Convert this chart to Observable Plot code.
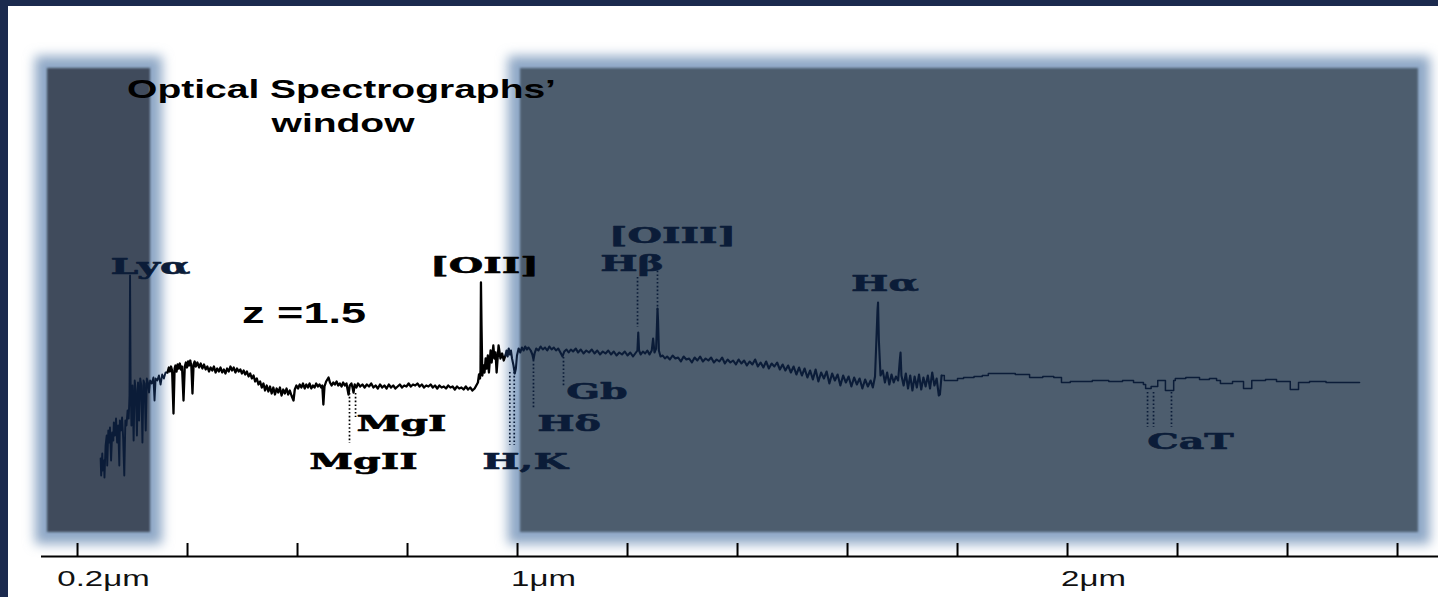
<!DOCTYPE html>
<html><head><meta charset="utf-8">
<script src="https://cdn.jsdelivr.net/npm/d3@7"></script>
<script src="https://cdn.jsdelivr.net/npm/@observablehq/plot@0.6"></script>
<style>
html,body{margin:0;padding:0;background:#1b2a4e;width:1438px;height:597px;overflow:hidden;}
#chart{position:absolute;left:8px;top:6px;width:1430px;height:591px;background:#fff;}
</style></head><body><div id="chart"></div>
<script>
// ---- data (wavelength in μm, relative flux) ----
const xTicks = [0.2,0.4,0.6,0.8,1.0,1.2,1.4,1.6,1.8,2.0,2.2,2.4,2.6];
const xTickLabels = [0.2, 1, 2];

// wavelength ranges outside the optical spectrographs' window
const blockedWindows = [
  {start: 0.1455, end: 0.3327},
  {start: 1.0055, end: 2.638}
];
const windowTop = 4.12, windowBottom = -0.52;

const lyaSpec = [
[0.242,0.22],[0.243,0.05],[0.245,0.27],[0.246,0.10],[0.248,0.20],[0.249,0.03],[0.251,0.35],[0.253,0.45],[0.254,0.15],[0.256,0.50],[0.258,0.38],[0.259,0.53],[0.261,0.20],[0.263,0.48],[0.265,0.40],[0.266,0.58],[0.268,0.45],[0.270,0.62],[0.272,0.38],[0.274,0.55],[0.276,0.15],[0.277,0.60],[0.279,0.50],[0.281,0.63],[0.283,0.42],[0.285,0.05],[0.287,0.60],[0.289,0.55],[0.291,0.70],[0.293,0.62],[0.2945,0.85],[0.2955,2.05],[0.2965,1.00],[0.298,0.55],[0.300,0.95],[0.302,0.40],[0.304,1.00],[0.306,0.90],[0.308,0.45],[0.310,0.98],[0.312,0.60],[0.314,1.02],[0.316,0.95],[0.318,0.38],[0.320,1.00],[0.322,0.97],[0.324,0.50],[0.326,1.02],[0.328,0.98],[0.330,0.88],[0.332,1.00],[0.335,0.97],[0.338,1.03],[0.340,0.80],[0.342,1.02],[0.345,1.00],[0.348,1.05],[0.351,0.96],[0.354,1.06],[0.357,1.02],[0.360,1.08],[0.3636,1.08]
];

const opticalSpec = [
[0.3636,1.08],[0.366,1.13],[0.368,1.09],[0.370,1.14],[0.372,1.10],[0.3745,0.67],[0.3765,1.12],[0.378,1.15],[0.380,1.09],[0.382,1.16],[0.384,1.12],[0.386,1.17],[0.388,1.11],[0.390,1.14],[0.3927,0.80],[0.395,1.14],[0.397,1.18],[0.399,1.13],[0.401,1.19],[0.403,1.15],[0.405,1.20],[0.407,1.14],[0.409,0.87],[0.411,1.16],[0.413,1.19],[0.415,1.14],[0.418,1.18],[0.421,1.13],[0.424,1.17],[0.427,1.12],[0.430,1.16],[0.433,1.11],[0.436,1.14],[0.439,1.09],[0.442,1.13],[0.445,1.10],[0.448,1.14],[0.451,1.08],[0.454,1.12],[0.457,1.09],[0.460,1.13],[0.463,1.08],[0.466,1.11],[0.469,1.07],[0.472,1.12],[0.475,1.09],[0.478,1.14],[0.481,1.10],[0.484,1.13],[0.487,1.08],[0.490,1.12],[0.493,1.09],[0.496,1.11],[0.499,1.07],[0.502,1.10],[0.505,1.06],[0.508,1.09],[0.511,1.04],[0.514,1.07],[0.517,1.02],[0.520,1.05],[0.523,0.99],[0.526,1.02],[0.529,0.96],[0.532,0.99],[0.535,0.93],[0.538,0.97],[0.541,0.90],[0.544,0.95],[0.547,0.89],[0.550,0.94],[0.553,0.87],[0.556,0.93],[0.559,0.86],[0.562,0.92],[0.565,0.88],[0.568,0.93],[0.571,0.85],[0.574,0.91],[0.577,0.87],[0.580,0.92],[0.583,0.86],[0.586,0.90],[0.589,0.85],[0.5927,0.80],[0.595,0.91],[0.598,0.95],[0.601,0.92],[0.604,0.96],[0.607,0.93],[0.610,0.97],[0.613,0.92],[0.616,0.96],[0.619,0.93],[0.622,0.97],[0.625,0.92],[0.628,0.95],[0.631,0.93],[0.634,0.97],[0.637,0.94],[0.640,0.96],[0.643,0.93],[0.645,0.95],[0.647,0.76],[0.649,0.94],[0.652,0.99],[0.6564,1.03],[0.659,0.98],[0.662,0.95],[0.665,0.98],[0.668,0.96],[0.671,0.99],[0.674,0.95],[0.677,0.97],[0.680,0.94],[0.683,0.98],[0.686,0.95],[0.689,0.97],[0.6927,0.86],[0.695,0.95],[0.698,0.97],[0.700,0.93],[0.7018,0.88],[0.704,0.96],[0.707,0.93],[0.710,0.97],[0.714,0.94],[0.718,0.96],[0.722,0.93],[0.726,0.96],[0.730,0.94],[0.734,0.97],[0.738,0.93],[0.742,0.95],[0.746,0.92],[0.750,0.96],[0.754,0.93],[0.758,0.95],[0.762,0.92],[0.766,0.96],[0.770,0.93],[0.774,0.95],[0.778,0.92],[0.782,0.94],[0.786,0.96],[0.790,0.93],[0.794,0.95],[0.798,0.94],[0.802,0.97],[0.806,0.94],[0.810,0.96],[0.814,0.95],[0.818,0.97],[0.822,0.94],[0.826,0.96],[0.830,0.93],[0.834,0.95],[0.838,0.94],[0.842,0.96],[0.846,0.93],[0.850,0.95],[0.854,0.92],[0.858,0.95],[0.862,0.93],[0.866,0.94],[0.870,0.92],[0.874,0.95],[0.878,0.93],[0.882,0.94],[0.886,0.91],[0.890,0.94],[0.894,0.92],[0.898,0.93],[0.902,0.91],[0.906,0.94],[0.910,0.91],[0.914,0.93],[0.918,0.90],[0.922,0.92],[0.925,0.95],[0.928,0.98],[0.930,1.06],[0.9318,1.02],[0.9327,1.10],[0.9335,1.98],[0.9345,1.55],[0.936,1.05],[0.938,1.15],[0.940,1.08],[0.942,1.22],[0.944,1.12],[0.946,1.25],[0.948,1.08],[0.951,1.30],[0.953,1.18],[0.956,1.35],[0.958,1.22],[0.960,1.28],[0.962,1.08],[0.9655,1.35],[0.969,1.22],[0.972,1.27],[0.975,1.20],[0.978,1.25]
];

const nirSpec = [
[0.978,1.25],[0.980,1.30],[0.982,1.24],[0.984,1.32],[0.986,1.26],[0.988,1.30],[0.990,1.22],[0.9927,1.15],[0.995,1.07],[0.997,1.12],[0.999,1.25],[1.002,1.32],[1.005,1.28],[1.008,1.33],[1.011,1.30],[1.014,1.34],[1.017,1.31],[1.020,1.33],[1.024,1.30],[1.027,1.26],[1.029,1.21],[1.031,1.27],[1.034,1.32],[1.038,1.30],[1.042,1.34],[1.046,1.31],[1.050,1.33],[1.054,1.30],[1.058,1.34],[1.062,1.31],[1.066,1.33],[1.070,1.30],[1.074,1.32],[1.078,1.28],[1.0818,1.24],[1.085,1.29],[1.089,1.31],[1.093,1.28],[1.097,1.31],[1.101,1.29],[1.106,1.32],[1.110,1.28],[1.115,1.31],[1.120,1.27],[1.125,1.30],[1.130,1.28],[1.135,1.31],[1.140,1.27],[1.145,1.30],[1.150,1.26],[1.155,1.29],[1.160,1.27],[1.165,1.30],[1.170,1.26],[1.175,1.29],[1.180,1.25],[1.185,1.28],[1.190,1.26],[1.195,1.29],[1.200,1.25],[1.205,1.28],[1.210,1.24],[1.214,1.27],[1.218,1.30],[1.2195,1.48],[1.221,1.30],[1.224,1.26],[1.228,1.29],[1.232,1.27],[1.236,1.30],[1.240,1.26],[1.244,1.30],[1.2465,1.42],[1.249,1.28],[1.252,1.32],[1.2535,1.55],[1.2545,1.72],[1.2555,1.60],[1.257,1.30],[1.260,1.24],[1.264,1.25],[1.268,1.22],[1.272,1.24],
[1.277,1.21],[1.282,1.25],[1.287,1.22],[1.292,1.23],[1.297,1.19],[1.302,1.24],[1.307,1.21],[1.312,1.22],[1.317,1.18],[1.322,1.23],[1.327,1.20],[1.332,1.24],[1.337,1.19],[1.342,1.22],[1.347,1.20],[1.352,1.23],[1.357,1.18],[1.362,1.21],[1.367,1.19],[1.372,1.23],[1.377,1.17],[1.382,1.21],[1.387,1.18],[1.392,1.20],[1.397,1.16],[1.402,1.21],[1.407,1.17],[1.412,1.20],[1.417,1.15],[1.422,1.19],[1.427,1.16],[1.432,1.21],[1.437,1.14],[1.442,1.18],[1.447,1.13],[1.452,1.19],[1.457,1.12],[1.462,1.17],[1.467,1.14],[1.472,1.18],[1.477,1.11],[1.482,1.16],[1.487,1.10],[1.492,1.15],[1.497,1.08],[1.502,1.14],[1.507,1.06],[1.512,1.13],[1.517,1.05],[1.522,1.12],[1.527,1.03],[1.532,1.10],[1.537,1.01],[1.542,1.11],[1.547,0.99],[1.552,1.08],[1.557,1.02],[1.562,1.09],[1.567,0.97],[1.572,1.07],[1.577,1.00],[1.582,1.06],[1.587,0.95],[1.592,1.05],[1.597,0.98],[1.602,1.04],[1.607,0.94],[1.612,1.03],[1.617,0.96],[1.622,1.02],[1.627,0.92],[1.632,1.01],[1.637,0.94],[1.642,1.00],[1.646,0.93],[1.650,1.04],[1.6545,1.70],[1.6555,1.78],[1.657,1.40],[1.660,1.05],[1.664,1.10],[1.668,0.98],[1.672,1.08],[1.676,0.96],[1.680,1.06],[1.684,0.98],[1.688,1.04],[1.692,1.00],[1.695,1.20],[1.6964,1.28],[1.698,1.05],[1.702,0.95],[1.706,1.07],[1.710,0.92],[1.714,1.05],[1.718,0.90],[1.722,1.04],[1.726,0.93],[1.730,1.06],[1.734,0.91],[1.738,1.03],[1.742,0.94],[1.746,1.05],[1.750,0.92],[1.754,1.08],[1.758,0.95],[1.762,1.02],[1.766,0.85],[1.768,0.86],[1.771,1.05]
];

// low-resolution (stepped) near-IR part
const nirSmooth = [
[1.771,1.05],[1.776,1.00],[1.789,1.00],[1.800,1.02],[1.811,1.03],[1.830,1.04],[1.845,1.05],[1.856,1.07],[1.880,1.07],[1.905,1.06],[1.931,1.03],[1.955,1.04],[1.975,1.03],[1.989,0.98],[2.005,0.99],[2.020,0.99],[2.045,1.00],[2.075,0.99],[2.100,1.00],[2.120,0.98],[2.138,0.96],[2.142,0.92],[2.152,0.94],[2.164,1.00],[2.170,1.00],[2.178,0.90],[2.193,1.00],[2.196,1.02],[2.215,1.03],[2.240,1.01],[2.258,1.02],[2.271,1.00],[2.278,0.97],[2.300,0.99],[2.320,0.92],[2.335,1.00],[2.360,1.01],[2.380,0.99],[2.405,0.91],[2.420,0.98],[2.440,0.99],[2.470,0.98],[2.500,0.98],[2.531,0.98]
];

// spectral features: dotted markers
const featureMarkers = [
  {feature: "MgII",  lam: 0.6945, top: 0.87, bottom: 0.37},
  {feature: "MgI",   lam: 0.7055, top: 0.87, bottom: 0.63},
  {feature: "H",     lam: 0.986,  top: 1.08, bottom: 0.35},
  {feature: "K",     lam: 0.994,  top: 1.08, bottom: 0.35},
  {feature: "Hδ",    lam: 1.029,  top: 1.20, bottom: 0.72},
  {feature: "Gb",    lam: 1.0836, top: 1.23, bottom: 0.93},
  {feature: "Hβ",    lam: 1.2182, top: 2.03, bottom: 1.53},
  {feature: "[OIII]",lam: 1.2545, top: 2.17, bottom: 1.70},
  {feature: "CaT1",  lam: 2.1455, top: 0.88, bottom: 0.53},
  {feature: "CaT2",  lam: 2.1564, top: 0.88, bottom: 0.53},
  {feature: "CaT3",  lam: 2.189,  top: 0.88, bottom: 0.53}
];

const lineLabels = [
  {name: "Lyα",    lam: 0.3327, flux: 2.07},
  {name: "[OII]",  lam: 0.94,   flux: 2.08},
  {name: "[OIII]", lam: 1.2818, flux: 2.38},
  {name: "Hβ",     lam: 1.2082, flux: 2.10},
  {name: "Hα",     lam: 1.668,  flux: 1.90},
  {name: "MgI",    lam: 0.789,  flux: 0.50},
  {name: "MgII",   lam: 0.72,   flux: 0.12},
  {name: "H,K",    lam: 1.0136, flux: 0.12},
  {name: "Hδ",     lam: 1.0936, flux: 0.50},
  {name: "Gb",     lam: 1.1445, flux: 0.82},
  {name: "CaT",    lam: 2.2236, flux: 0.32}
];

const titleLines = [
  {text: "Optical Spectrographs’", lam: 0.68,   flux: 3.83},
  {text: "window",                 lam: 0.6827, flux: 3.49}
];
const redshiftLabel = [{text: "z =1.5", lam: 0.6118, flux: 1.58}];

// ---- chart ----
const navy = "#0b1c38";
const xDomain = [0.0745, 2.6745];
const yDomain = [-0.76, 4.74];
const axisStart = 0.1345;
const inDark = lam => lam < 0.34 || lam > 0.975;

const svg = Plot.plot({
  width: 1430, height: 591,
  marginLeft: 0, marginRight: 0, marginTop: 0, marginBottom: 41,
  style: {background: "#ffffff", overflow: "visible", fontFamily: "Liberation Sans, Arial, sans-serif"},
  x: {domain: xDomain},
  y: {domain: yDomain, axis: null},
  marks: [
    Plot.rect(blockedWindows, {x1: "start", x2: "end", y1: windowBottom, y2: windowTop, inset: -12, fill: "#8ea7c6"}),
    Plot.rect(blockedWindows, {x1: "start", x2: "end", y1: windowBottom, y2: windowTop, fill: (d, i) => i === 0 ? "#3f4b5b" : "#4e5d6e"}),
    Plot.line(lyaSpec, {stroke: navy, strokeWidth: 1.9}),
    Plot.line(opticalSpec, {stroke: "#000", strokeWidth: 2.3}),
    Plot.line(nirSpec, {stroke: navy, strokeWidth: 2.1}),
    Plot.line(nirSmooth, {stroke: navy, strokeWidth: 1.5, curve: "step-after"}),
    Plot.ruleX(featureMarkers, {x: "lam", y1: "top", y2: "bottom", stroke: d => inDark(d.lam) ? navy : "#000", strokeWidth: 1.7, strokeDasharray: "1.6,2.2"}),
    Plot.text(lineLabels, {x: "lam", y: "flux", text: "name", lineAnchor: "bottom", textAnchor: "middle",
      fontFamily: "DejaVu Serif", fontWeight: "bold", fontSize: 23,
      fill: d => inDark(d.lam) ? navy : "#000", stroke: d => inDark(d.lam) ? navy : "#000", strokeWidth: 0.6}),
    Plot.text(titleLines, {x: "lam", y: "flux", text: "text", lineAnchor: "bottom", textAnchor: "middle",
      fontFamily: "Liberation Sans", fontWeight: "bold", fontSize: 26, fill: "#000"}),
    Plot.text(redshiftLabel, {x: "lam", y: "flux", text: "text", lineAnchor: "bottom", textAnchor: "middle",
      fontFamily: "Liberation Sans", fontWeight: "bold", fontSize: 30, fill: "#000"}),
    Plot.ruleY([yDomain[0]], {x1: axisStart, x2: xDomain[1], stroke: "#000", strokeWidth: 2}),
    Plot.ruleX(xTicks, {x: d => d, y1: yDomain[0], y2: yDomain[0] + 0.13, stroke: "#000", strokeWidth: 2}),
    Plot.axisX({ticks: xTickLabels, tickFormat: d => `${d}μm`, tickSize: 0, tickPadding: 14, dx: 26,
      fontSize: 22, fontFamily: "Liberation Sans", fill: "#111"})
  ]
});

const sel = d3.select(svg);
const defs = sel.insert("defs", ":first-child");
defs.append("filter").attr("id", "glow").attr("x", "-10%").attr("y", "-10%").attr("width", "120%").attr("height", "120%")
  .append("feGaussianBlur").attr("stdDeviation", 6);
defs.append("filter").attr("id", "soft")
  .append("feGaussianBlur").attr("stdDeviation", 0.8);
const rectGroups = sel.selectAll('g[aria-label="rect"]').nodes();
if (rectGroups[0]) rectGroups[0].setAttribute("filter", "url(#glow)");
if (rectGroups[1]) rectGroups[1].setAttribute("filter", "url(#soft)");

// the original artwork is horizontally stretched: widen the glyphs around their anchors
sel.selectAll("text").each(function() {
  let fam = "";
  let n = this;
  while (n && n !== svg) { if (n.getAttribute && n.getAttribute("font-family")) { fam = n.getAttribute("font-family"); break; } n = n.parentNode; }
  const sx = fam.includes("Serif") ? 1.72 : 1.5;
  let t = this.getAttribute("transform");
  if (!t) {
    const x = this.getAttribute("x") || 0, y = this.getAttribute("y") || 0;
    this.removeAttribute("x"); this.removeAttribute("y");
    t = `translate(${x},${y})`;
  }
  this.setAttribute("transform", `${t} scale(${sx},1)`);
});

document.getElementById("chart").appendChild(svg);
</script></body></html>
